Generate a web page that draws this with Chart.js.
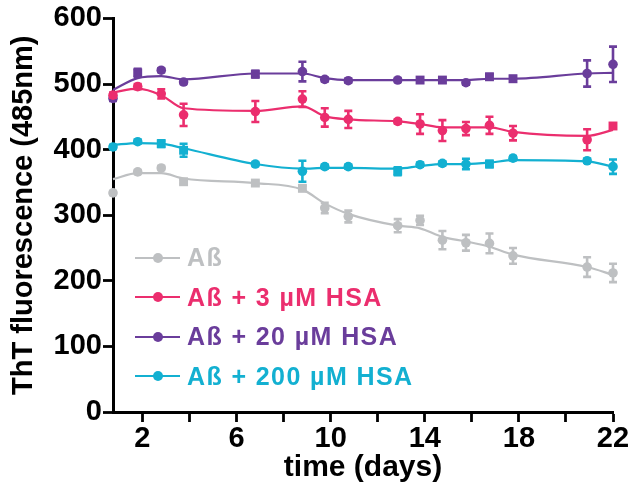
<!DOCTYPE html>
<html><head><meta charset="utf-8">
<script src="https://cdn.jsdelivr.net/npm/chart.js@4.4.1/dist/chart.umd.min.js"></script>
<style>
html,body{margin:0;padding:0;background:#fff;}
#wrap{position:relative;width:630px;height:488px;}
#legend{position:absolute;left:135px;top:238px;font-family:"Liberation Sans",Arial,sans-serif;font-weight:bold;font-size:25px;letter-spacing:1.4px;line-height:1;}
.row{display:flex;align-items:center;height:39.5px;white-space:nowrap;}
.sym{position:relative;width:45px;height:2px;margin-right:7px;}
.sym i{position:absolute;left:18px;top:-4px;width:10px;height:10px;border-radius:50%;}
</style></head>
<body><div id="wrap"><canvas id="c" width="630" height="488"></canvas><div id="legend"></div></div>
<script>
// ---- data ----
const days = [0.75, 1.8, 2.8, 3.75, 6.8, 8.8, 9.75, 10.75, 12.85, 13.8, 14.75, 15.75, 16.75, 17.75, 20.9, 22];
const seriesNames = ['Aß', 'Aß + 3 µM HSA', 'Aß + 20 µM HSA', 'Aß + 200 µM HSA'];

const abMean   = [334, 366, 372, 351, 349, 341, 311, 298, 284, 292, 262, 258, 257, 238, 221, 212];
const abErr    = [3, 3, 3, 3, 3, 4, 8, 9, 10, 7, 14, 12, 15, 12, 15, 14];
const abFit    = [355, 364, 364, 356, 349, 339, 318, 302, 284, 280, 267, 260, 252, 240, 221, 209];

const hsa3Mean = [483, 496, 485, 453, 458, 477, 449, 446, 443, 439, 429, 432, 437, 425, 415, 436];
const hsa3Err  = [4, 4, 7, 17, 16, 12, 14, 13, 3, 15, 16, 10, 13, 11, 16, 4];
const hsa3Fit  = [487, 493, 483, 463, 459, 466, 451, 446, 443, 439, 434, 434, 434, 427, 421, 430];

const hsa20Mean = [478, 517, 521, 503, 515, 519, 507, 505, 506, 506, 506, 502, 511, 508, 516, 530];
const hsa20Err  = [4, 6, 3, 3, 5, 15, 3, 3, 3, 4, 4, 3, 4, 4, 20, 27];
const hsa20Fit  = [491, 509, 512, 507, 516, 516, 509, 506, 506, 506, 506, 506, 508, 508, 516, 517];

const hsa200Mean = [404, 412, 409, 399, 378, 367, 374, 374, 367, 377, 379, 378, 378, 387, 383, 374];
const hsa200Err  = [3, 3, 5, 10, 3, 16, 3, 3, 6, 3, 3, 8, 5, 3, 3, 11];
const hsa200Fit  = [407, 410, 409, 402, 378, 371, 372, 372, 371, 375, 378, 378, 380, 384, 382, 374];

const yTicks = [0, 100, 200, 300, 400, 500, 600];
const xTicks = [2, 4, 6, 8, 10, 12, 14, 16, 18, 20, 22];
const xLabels = [2, 6, 10, 14, 18, 22];

// ---- styling ----
const colors = ['#BEC0C2', '#EB2E6E', '#6A3D9B', '#13B0D1'];
const squares = [[3,4,5], [15], [1,4,9,10,12,13], [2,3,8,12]];
const means = [abMean, hsa3Mean, hsa20Mean, hsa200Mean];
const errs = [abErr, hsa3Err, hsa20Err, hsa200Err];
const fits = [abFit, hsa3Fit, hsa20Fit, hsa200Fit];
const FONT = '"Liberation Sans", Arial, sans-serif';

const pointSets = means.map((m, s) => ({
  label: seriesNames[s],
  data: days.map((d, i) => ({x: d, y: m[i]})),
  errors: errs[s],
  showLine: false,
  pointRadius: days.map((d, i) => squares[s].includes(i) ? 6.3 : 4.8),
  pointStyle: days.map((d, i) => squares[s].includes(i) ? 'rect' : 'circle'),
  backgroundColor: colors[s],
  borderColor: colors[s],
  borderWidth: 0,
  clip: false
}));
const fitSets = fits.map((f, s) => ({
  label: seriesNames[s] + ' fit',
  data: days.map((d, i) => ({x: d, y: f[i]})),
  showLine: true,
  pointRadius: 0,
  borderColor: colors[s],
  borderWidth: 2.2,
  cubicInterpolationMode: 'monotone',
  clip: false
}));

const errorBars = {
  id: 'errorBars',
  afterDatasetDraw(chart, args) {
    const ds = chart.data.datasets[args.index];
    if (!ds.errors) return;
    const ys = chart.scales.y, ctx = chart.ctx;
    ctx.save();
    ctx.strokeStyle = ds.borderColor;
    ctx.lineWidth = 2.6;
    args.meta.data.forEach((pt, i) => {
      const v = ds.data[i].y, e = ds.errors[i];
      const y1 = ys.getPixelForValue(v + e), y2 = ys.getPixelForValue(v - e);
      ctx.beginPath();
      ctx.moveTo(pt.x, y1); ctx.lineTo(pt.x, y2);
      ctx.moveTo(pt.x - 4, y1); ctx.lineTo(pt.x + 4, y1);
      ctx.moveTo(pt.x - 4, y2); ctx.lineTo(pt.x + 4, y2);
      ctx.stroke();
    });
    ctx.restore();
  }
};

const tickFont = {family: FONT, size: 29, weight: 'bold'};
new Chart(document.getElementById('c'), {
  type: 'scatter',
  data: {datasets: [...pointSets, ...fitSets]},
  options: {
    responsive: false,
    animation: false,
    events: [],
    devicePixelRatio: 1,
    layout: {padding: {top: 18, right: 17, left: 0, bottom: 0}},
    plugins: {legend: {display: false}, tooltip: {enabled: false}},
    scales: {
      x: {
        type: 'linear', min: 0.75, max: 22,
        afterBuildTicks(s) { s.ticks = xTicks.map(v => ({value: v})); },
        afterFit(s) { s.height = 76; },
        ticks: {
          autoSkip: false, maxRotation: 0, padding: 0, color: '#000', font: tickFont,
          callback: v => xLabels.includes(v) ? String(v) : ''
        },
        grid: {display: true, drawOnChartArea: false, drawTicks: true, tickLength: 10, tickWidth: 2.8, tickColor: '#000'},
        border: {display: true, width: 3, color: '#000'},
        title: {display: true, text: 'time (days)', color: '#000', font: {family: FONT, size: 30, weight: 'bold'}, padding: {top: 0, bottom: 2}}
      },
      y: {
        min: 0, max: 600,
        afterBuildTicks(s) { s.ticks = yTicks.map(v => ({value: v})); },
        afterFit(s) { s.width = 113; },
        ticks: {padding: 1, color: '#000', font: tickFont},
        grid: {display: true, drawOnChartArea: false, drawTicks: true, tickLength: 10, tickWidth: 2.8, tickColor: '#000'},
        border: {display: true, width: 3, color: '#000'},
        title: {display: true, text: 'ThT fluorescence (485nm)', color: '#000', font: {family: FONT, size: 29, weight: 'bold'}, padding: {top: 7, bottom: 0}}
      }
    }
  },
  plugins: [errorBars]
});

// HTML legend
const lg = document.getElementById('legend');
seriesNames.forEach((n, s) => {
  const r = document.createElement('div');
  r.className = 'row';
  r.style.color = colors[s];
  r.innerHTML = '<span class="sym" style="background:' + colors[s] + '"><i style="background:' + colors[s] + '"></i></span><span></span>';
  r.lastChild.textContent = n;
  lg.appendChild(r);
});
</script>
</body></html>
